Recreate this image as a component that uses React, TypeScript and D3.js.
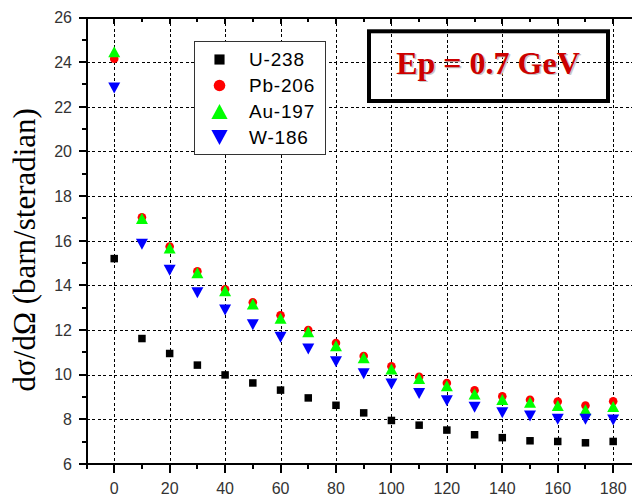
import React from "react";
import * as d3 from "d3";

const angles = [0, 10, 20, 30, 40, 50, 60, 70, 80, 90, 100, 110, 120, 130, 140, 150, 160, 170, 180];
const u238 = [15.2, 11.62, 10.95, 10.43, 9.99, 9.63, 9.31, 8.96, 8.63, 8.29, 7.95, 7.74, 7.52, 7.31, 7.18, 7.04, 7.01, 6.95, 7.01];
const pb206 = [24.15, 17.05, 15.74, 14.63, 13.83, 13.24, 12.66, 12.0, 11.42, 10.84, 10.38, 9.91, 9.63, 9.3, 9.03, 8.88, 8.8, 8.62, 8.81];
const au197 = [24.47, 17.0, 15.68, 14.57, 13.76, 13.17, 12.53, 11.92, 11.3, 10.76, 10.26, 9.83, 9.5, 9.14, 8.89, 8.77, 8.62, 8.43, 8.57];
const w186 = [22.84, 15.84, 14.68, 13.67, 12.9, 12.24, 11.68, 11.15, 10.58, 10.04, 9.58, 9.16, 8.83, 8.54, 8.3, 8.15, 8.01, 8.01, 7.97];

const xTicks = [0, 20, 40, 60, 80, 100, 120, 140, 160, 180];
const xMinor = [-10, 10, 30, 50, 70, 90, 110, 130, 150, 170, 190];
const yTicks = [6, 8, 10, 12, 14, 16, 18, 20, 22, 24, 26];
const yMinor = [7, 9, 11, 13, 15, 17, 19, 21, 23, 25];
const seriesNames = ["U-238", "Pb-206", "Au-197", "W-186"];
const seriesColors = ["#000000", "#ff0000", "#00ff00", "#0000ff"];
const seriesShapes = ["square", "circle", "up", "down"];
const titleText = "Ep = 0.7 GeV";

const W = 632, H = 497;
const L = 86.5, R = 640.9, T = 17.5, B = 464;

function marker(shape: string, cx: number, cy: number, s: number, color: string, key: any) {
  if (shape === "square") {
    const a = 7.5 * s;
    return <rect key={key} x={cx - a / 2} y={cy - a / 2} width={a} height={a} fill={color} />;
  }
  if (shape === "circle") {
    return <circle key={key} cx={cx} cy={cy} r={4.3 * s} fill={color} />;
  }
  const hw = 6 * s, hh = 5.5 * s;
  const dir = shape === "up" ? 1 : -1;
  const p = `M${cx - hw},${cy + dir * hh}L${cx + hw},${cy + dir * hh}L${cx},${cy - dir * hh}Z`;
  return <path key={key} d={p} fill={color} />;
}

export default function App() {
  const x = d3.scaleLinear().domain([-10, 190]).range([L, R]);
  const y = d3.scaleLinear().domain([6, 26]).range([B, T]);
  const data = [u238, pb206, au197, w186];
  const tickFont = "'Liberation Sans', Arial, sans-serif";

  return (
    <svg width={W} height={H} style={{ position: "absolute", left: 0, top: 0, background: "#fff" }}>
      <rect x={0} y={0} width={W} height={H} fill="#fff" />
      {/* grid */}
      <g stroke="#000" strokeWidth={1} strokeDasharray="3,2.5" shapeRendering="crispEdges">
        {xTicks.map((t) => (
          <line key={"gx" + t} x1={Math.round(x(t)) + 0.5} x2={Math.round(x(t)) + 0.5} y1={T} y2={B} />
        ))}
        {yTicks.filter((t) => t > 6 && t < 26).map((t) => (
          <line key={"gy" + t} x1={L} x2={W} y1={Math.round(y(t)) + 0.5} y2={Math.round(y(t)) + 0.5} />
        ))}
      </g>
      {/* axes */}
      <g stroke="#000" strokeWidth={2} shapeRendering="crispEdges">
        <line x1={L} x2={W} y1={T} y2={T} />
        <line x1={L - 1} x2={W} y1={B} y2={B} />
        <line x1={L} x2={L} y1={T} y2={B + 1} />
        {xTicks.map((t) => (
          <line key={"bx" + t} x1={x(t)} x2={x(t)} y1={B} y2={B + 9} />
        ))}
        {xMinor.map((t) => (
          <line key={"bm" + t} x1={x(t)} x2={x(t)} y1={B} y2={B + 5} />
        ))}
        {xTicks.map((t) => (
          <line key={"tx" + t} x1={x(t)} x2={x(t)} y1={T} y2={T + 6} />
        ))}
        {xMinor.map((t) => (
          <line key={"tm" + t} x1={x(t)} x2={x(t)} y1={T} y2={T + 4} />
        ))}
        {yTicks.map((t) => (
          <line key={"ly" + t} x1={L - 8} x2={L} y1={y(t)} y2={y(t)} />
        ))}
        {yMinor.map((t) => (
          <line key={"lm" + t} x1={L - 4.5} x2={L} y1={y(t)} y2={y(t)} />
        ))}
      </g>
      {/* tick labels */}
      <g fill="#333" fontFamily={tickFont} fontSize={16}>
        {xTicks.map((t) => (
          <text key={"xl" + t} x={x(t)} y={494} textAnchor="middle">{t}</text>
        ))}
        {yTicks.map((t) => (
          <text key={"yl" + t} x={72} y={y(t)} dy="0.36em" textAnchor="end">{t}</text>
        ))}
      </g>
      {/* y label */}
      <text
        transform={`translate(35,${(B + T) / 2 + 9}) rotate(-90)`}
        textAnchor="middle"
        fontFamily="'Liberation Serif', 'Times New Roman', serif"
        fontSize={31}
        fill="#000"
      >
        dσ/dΩ (barn/steradian)
      </text>
      {/* data */}
      {data.map((arr, si) => (
        <g key={"s" + si}>
          {arr.map((v, i) => marker(seriesShapes[si], x(angles[i]), y(v), 1, seriesColors[si], i))}
        </g>
      ))}
      {/* legend */}
      <rect x={194.5} y={41.5} width={131} height={113} fill="#fff" stroke="#333" strokeWidth={1} />
      {seriesNames.map((n, i) => {
        const cy = 59.5 + i * 26;
        return (
          <g key={"lg" + i}>
            {marker(seriesShapes[i], 219.5, cy, 1.35, seriesColors[i], "m")}
            <text x={249} y={cy} dy="0.36em" fontFamily={tickFont} fontSize={19} letterSpacing={0.8} fill="#000">
              {n}
            </text>
          </g>
        );
      })}
      {/* title box */}
      <rect x={369} y={31.3} width={239} height={69.7} fill="none" stroke="#000" strokeWidth={4} />
      <text x={489.5} y={75} textAnchor="middle" fontFamily="'Liberation Serif', 'Times New Roman', serif"
        fontWeight="bold" fontSize={32} fill="#c8c8c8">
        {titleText}
      </text>
      <text x={488} y={73.5} textAnchor="middle" fontFamily="'Liberation Serif', 'Times New Roman', serif"
        fontWeight="bold" fontSize={32} fill="#cc0000">
        {titleText}
      </text>
    </svg>
  );
}
